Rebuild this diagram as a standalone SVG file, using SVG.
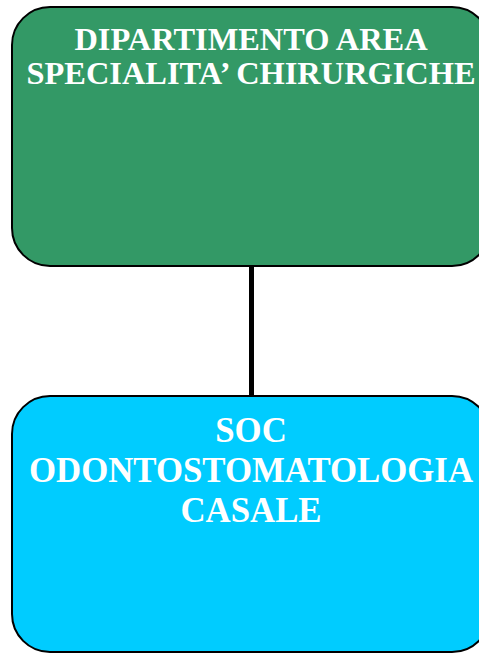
<svg xmlns="http://www.w3.org/2000/svg" width="479" height="654" viewBox="0 0 479 654">
<style>
.box{stroke:#000;stroke-width:2}
.t{font-family:"Liberation Serif","Times New Roman",serif;font-weight:bold;fill:#fff;text-anchor:middle}
.a{font-size:32.4px}
.b{font-size:34.8px}
</style>
<rect width="479" height="654" fill="#fff"/>
<g id="connectors">
<line x1="251.5" y1="266" x2="251.5" y2="397" stroke="#000" stroke-width="5"/>
</g>
<g id="node-dipartimento">
<rect class="box" x="12" y="7" width="478" height="259" rx="38" ry="38" fill="#339966"/>
<text class="t a" x="251" y="50">DIPARTIMENTO AREA</text>
<text class="t a" x="251" y="84">SPECIALITA’ CHIRURGICHE</text>
</g>
<g id="node-soc">
<rect class="box" x="12" y="396" width="478" height="256" rx="38" ry="38" fill="#00ccff"/>
<text class="t b" x="251" y="442">SOC</text>
<text class="t b" x="251" y="482">ODONTOSTOMATOLOGIA</text>
<text class="t b" x="251" y="522">CASALE</text>
</g>
</svg>
